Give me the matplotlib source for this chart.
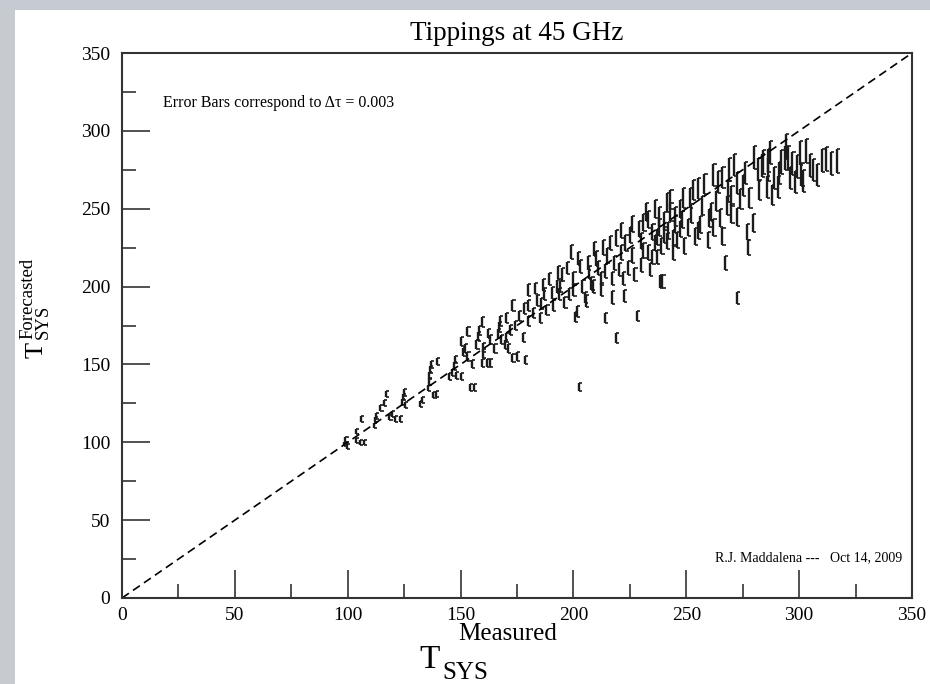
"""Tippings at 45 GHz: forecasted vs measured system temperature."""
import matplotlib
matplotlib.use("Agg")
import matplotlib.pyplot as plt
from matplotlib.patches import Rectangle
from matplotlib.ticker import MultipleLocator
import numpy as np

plt.rcParams["font.family"] = ["Liberation Serif", "DejaVu Serif"]

W, H = 930, 684

# ----------------------------------------------------------------------
# Data: measured Tsys, forecasted Tsys, half error
# ----------------------------------------------------------------------
tsys_measured = [
    98.5, 99, 99.5, 103.5, 103.5, 105.5, 107, 106, 111.5, 112,
    112.5, 114.5, 116, 117, 118.5, 119.5, 121, 123, 124, 124.5,
    125, 125.5, 132, 133, 135.5, 136, 136, 136.5, 137, 138,
    139, 139.5, 145, 146, 147, 147.5, 148, 150,
    152, 153, 153, 154, 156, 157, 157.5, 159.5, 159.5, 160,
    160, 161.5, 163, 163, 166.5, 167, 167.5, 168, 169.5, 170,
    172, 173, 173, 175, 176, 177.5, 178.5, 180, 180, 180,
    182, 184, 185.5, 186.5, 187, 188, 190.5, 192.5, 193, 193.5,
    195, 196, 198, 200, 200, 200.5, 201.5, 202.5,
    203, 205, 205.5, 206.5, 207, 208, 208.5, 210, 212, 212,
    213, 214, 214, 215, 217, 218, 219, 219, 220, 221,
    222.4, 223, 224, 225, 226, 228, 229, 230, 230, 231,
    233, 233, 235, 235, 236, 237, 238, 238, 238.4, 239.4,
    239, 240, 241.5, 241.5, 242, 243, 244, 245, 245, 246,
    247, 248.5, 249,
    250.8, 251.6, 252, 254, 255, 256, 257, 259.6, 260, 262,
    263, 264, 265, 266, 267, 268, 268.5, 269, 270, 272.5,
    272.5, 272.5, 274, 276, 277, 277.4, 278, 279.6, 281.8, 283.6,
    284, 285.8, 286, 286, 288, 289, 290.6, 292, 293.7, 295,
    296, 297, 298, 300.4, 301, 301.7, 304.8, 308, 310, 312,
    316.8,
    150, 151, 155, 158, 162, 165, 170, 171, 174, 178,
    183, 185, 189, 191, 194, 197, 199, 202, 204, 209,
    211, 216, 217, 221, 222, 226, 227, 231, 232, 234,
    236, 237, 240, 243, 244, 247, 248, 253, 255, 258,
    261, 262, 266, 270, 271, 275, 280, 282, 287, 291,
    294, 299, 303, 306, 314,
]
tsys_forecast = [
    99, 102, 97.5, 107, 101, 100, 100, 115, 111, 114.5,
    117, 122, 125, 131, 116, 118, 115, 115, 126, 129,
    132, 124, 124.5, 127, 135, 139, 143, 147, 150, 130.5,
    131, 152, 142, 145, 149, 153, 143, 142,
    160, 155, 171, 135, 135, 163, 168, 151, 177, 161,
    157, 151, 151, 166, 170, 174, 178, 166, 163, 167,
    172, 188, 154, 155, 181, 167, 153, 188, 178, 198,
    183, 191, 189, 201, 195, 185, 196, 200, 209, 195,
    208, 190, 195, 198, 205, 180.5, 184, 135.5,
    213, 193, 191, 215, 209, 202, 200, 218, 198, 205,
    225, 210, 180, 220, 193, 215, 231, 167, 211, 222,
    194, 228, 212, 233, 220, 181, 237, 214, 229, 241,
    243, 222, 235, 219, 228, 232, 245, 238, 203.5, 203.5,
    226, 242, 254, 229, 236, 248, 231, 245, 240, 230,
    237, 257, 226,
    238, 257, 247, 232, 263, 240, 252, 230, 244, 271.7,
    255, 267, 244, 232, 215, 252, 261, 275, 247, 266.5,
    244.7, 192.6, 256, 273, 235, 225, 257, 241, 275, 278,
    280, 264, 275, 281, 259, 270, 264, 280, 282.6, 282.6,
    270, 279, 267, 285.8, 272, 268, 277.5, 271.7, 281, 282,
    280.6,
    165, 158, 150, 172, 170, 160, 180, 160, 175, 186,
    199, 180, 205, 188, 200, 212, 222, 218, 200, 224,
    212, 228, 205, 236, 205, 240, 208, 223, 248, 211,
    250, 219, 233, 256, 222, 250, 243, 262, 236, 266,
    248, 238, 270, 258, 278, 265, 283, 262, 286, 273,
    290, 277, 287, 275, 279,
]
err_half = [
    1.5, 1.5, 1.5, 1.6, 1.5, 1.5, 1.5, 1.7, 1.7, 1.7,
    1.8, 1.9, 1.9, 2, 1.8, 1.8, 1.8, 1.8, 1.9, 2,
    2, 1.9, 1.9, 1.9, 2.1, 2.2, 2.2, 2.3, 2.3, 2,
    2, 2.4, 2.2, 2.3, 2.4, 2.4, 2.2, 2.2,
    2.8, 2.7, 3, 2.3, 2.3, 2.9, 3, 2.7, 3.2, 2.8,
    2.8, 2.7, 2.7, 2.9, 3, 3.1, 3.2, 2.9, 2.9, 2.9,
    3.1, 3.5, 2.7, 2.7, 3.3, 2.9, 2.7, 3.5, 3.2, 3.9,
    3.3, 3.6, 3.5, 4, 3.8, 3.4, 3.8, 4, 4.2, 3.8,
    4.2, 3.6, 3.8, 3.9, 4.1, 3.3, 3.4, 2.3,
    4.3, 3.8, 3.8, 4.4, 4.2, 4, 4, 4.6, 4, 4.2,
    4.8, 4.3, 3.3, 4.7, 3.9, 4.5, 5.1, 3, 4.3, 4.7,
    3.9, 5, 4.4, 5.2, 4.7, 3.4, 5.4, 4.5, 5.1, 5.6,
    5.7, 4.7, 5.3, 4.6, 5, 5.2, 5.8, 5.5, 4.1, 4.1,
    5, 5.6, 6.2, 5.1, 5.4, 5.9, 5.2, 5.8, 5.6, 5.1,
    5.4, 6.4, 5,
    5.5, 6.4, 6, 5.3, 6.7, 5.6, 6.2, 5.1, 5.8, 7.1,
    6.4, 6.9, 5.8, 5.3, 4.6, 6.2, 6.6, 7.3, 6, 6.9,
    5.8, 3.8, 6.4, 7.2, 5.4, 5, 6.4, 5.7, 7.3, 7.4,
    7.5, 6.8, 7.3, 7.5, 6.5, 7.1, 6.8, 7.5, 7.6, 7.6,
    7.1, 7.5, 7, 7.8, 7.2, 7, 7.4, 7.2, 7.5, 7.5,
    7.5,
    2.9, 2.7, 2.6, 3, 3, 2.8, 3.2, 2.8, 3.1, 3.4,
    3.6, 3.3, 3.8, 3.5, 3.8, 4.1, 4.4, 4.3, 3.9, 4.6,
    4.3, 4.7, 4.1, 5, 4.1, 5.2, 4.2, 4.8, 5.6, 4.4,
    5.7, 4.7, 5.2, 6, 4.9, 5.8, 5.5, 6.4, 5.4, 6.6,
    5.9, 5.5, 6.8, 6.3, 7.1, 6.6, 7.4, 6.6, 7.6, 7.1,
    7.8, 7.3, 7.7, 7.2, 7.4,
]

x = np.array(tsys_measured)
y = np.array(tsys_forecast)
e = np.array(err_half)


def fx(px):
    return px / W


def fy(py):
    return 1 - py / H


fig = plt.figure(figsize=(W / 100, H / 100), dpi=100, facecolor="#c6cbd1")
# white page over the grey backdrop
page = Rectangle((fx(15), 0), 1, fy(10), transform=fig.transFigure,
                 facecolor="white", edgecolor="none", zorder=-10)
fig.patches.append(page)
ax = fig.add_axes([fx(122), fy(598), 790 / W, 545 / H])
ax.set_zorder(1)
ax.set_facecolor("white")

# "[" shaped error bars
ink = "#1c1c1c"
cap = 1.4
ax.vlines(x, y - e, y + e, color=ink, lw=1.7)
ax.hlines(y - e, x, x + cap, color=ink, lw=1.2)
ax.hlines(y + e, x, x + cap, color=ink, lw=1.2)

ax.axline((0, 0), slope=1, color="black", lw=1.2, ls=(0, (5, 3)))

ax.set_xlim(0, 350)
ax.set_ylim(0, 350)
ax.xaxis.set_major_locator(MultipleLocator(50))
ax.xaxis.set_minor_locator(MultipleLocator(25))
ax.yaxis.set_major_locator(MultipleLocator(50))
ax.yaxis.set_minor_locator(MultipleLocator(25))
ax.tick_params(which="both", direction="in", top=False, right=False,
               color="#333333", width=1.2, labelsize=14, labelcolor="black")
ax.tick_params(which="major", length=20)
ax.tick_params(which="minor", length=10)
ax.tick_params(axis="x", which="major", pad=6.5)
ax.tick_params(axis="y", which="major", pad=8.5)
for s in ax.spines.values():
    s.set_color("#333333")
    s.set_linewidth(1.5)

ax.set_title("Tippings at 45 GHz", fontsize=19.5, pad=9.5)

# x label: T with stacked super/subscripts
fig.text(fx(419), fy(668), "T", fontsize=24, ha="left", va="baseline")
fig.text(fx(458), fy(640), "Measured", fontsize=18, ha="left", va="baseline")
fig.text(fx(442), fy(679), "SYS", fontsize=18, ha="left", va="baseline")

# y label (rotated)
rot = dict(rotation=90, rotation_mode="anchor", ha="left", va="baseline")
fig.text(fx(43), fy(358), "T", fontsize=19, **rot)
fig.text(fx(32), fy(339), "Forecasted", fontsize=13.5, **rot)
fig.text(fx(48), fy(339), "SYS", fontsize=13.5, **rot)

ax.text(18, 318, "Error Bars correspond to Δτ = 0.003",
        fontsize=11.5, va="center", ha="left")
ax.text(345.5, 26, "R.J. Maddalena ---   Oct 14, 2009",
        fontsize=10, va="center", ha="right")

fig.savefig("out.png", dpi=100, facecolor=fig.get_facecolor())
